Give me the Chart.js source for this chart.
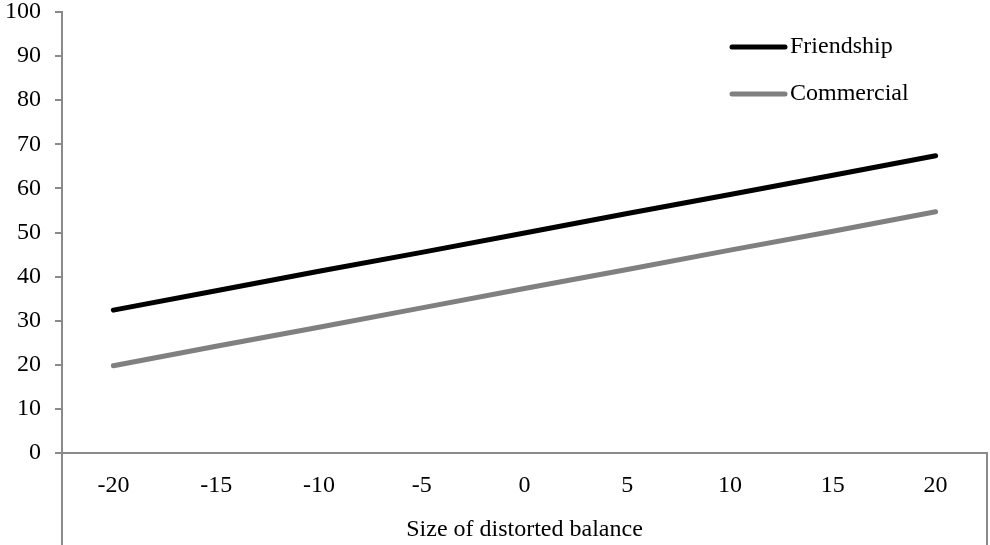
<!DOCTYPE html>
<html>
<head>
<meta charset="utf-8">
<script src="https://cdn.jsdelivr.net/npm/chart.js@4/dist/chart.umd.min.js"></script>
<style>
html,body{margin:0;padding:0;background:#fff;}
#wrap{width:990px;height:545px;position:relative;}
</style>
</head>
<body>
<div id="wrap"><canvas id="c"></canvas></div>
<script>
const categories = ['-20','-15','-10','-5','0','5','10','15','20'];
const friendship = [32.4, 36.8, 41.2, 45.5, 49.9, 54.3, 58.6, 63.0, 67.4];
const commercial = [19.8, 24.2, 28.5, 32.9, 37.3, 41.6, 46.0, 50.3, 54.7];
const yTicks = [0,10,20,30,40,50,60,70,80,90,100];
const xTitle = 'Size of distorted balance';

const FONT = '"Liberation Serif", "Times New Roman", serif';
const AXIS = '#8a8a8a';

const boxLines = {
  id: 'boxLines',
  afterDraw(chart) {
    const {ctx, chartArea} = chart;
    ctx.save();
    ctx.strokeStyle = AXIS;
    ctx.lineWidth = 2;
    ctx.beginPath();
    ctx.moveTo(chartArea.left, chartArea.bottom);
    ctx.lineTo(chartArea.left, chart.height);
    ctx.moveTo(chartArea.right, chartArea.bottom);
    ctx.lineTo(chartArea.right, chart.height);
    ctx.stroke();
    ctx.restore();
  }
};

const customLegend = {
  id: 'customLegend',
  afterDraw(chart) {
    const {ctx, chartArea} = chart;
    ctx.save();
    const x0 = chartArea.right - 255;
    const ys = [chartArea.top + 35, chartArea.top + 82];
    chart.data.datasets.forEach((ds, i) => {
      const y = ys[i];
      ctx.strokeStyle = ds.borderColor;
      ctx.lineWidth = 5;
      ctx.lineCap = 'round';
      ctx.beginPath();
      ctx.moveTo(x0, y);
      ctx.lineTo(x0 + 53, y);
      ctx.stroke();
      ctx.fillStyle = '#000';
      ctx.font = '24px ' + FONT;
      ctx.textBaseline = 'middle';
      ctx.textAlign = 'left';
      ctx.fillText(ds.label, x0 + 58, y);
    });
    ctx.restore();
  }
};

new Chart(document.getElementById('c'), {
  type: 'line',
  data: {
    labels: categories,
    datasets: [
      {label: 'Friendship', data: friendship, borderColor: '#000000', borderWidth: 5,
       pointRadius: 0, tension: 0, borderCapStyle: 'round', fill: false},
      {label: 'Commercial', data: commercial, borderColor: '#808080', borderWidth: 5,
       pointRadius: 0, tension: 0, borderCapStyle: 'round', fill: false}
    ]
  },
  options: {
    responsive: true,
    maintainAspectRatio: false,
    animation: false,
    layout: {padding: {top: 12, right: 3, left: 0, bottom: 0}},
    plugins: {legend: {display: false}, tooltip: {enabled: false}},
    scales: {
      x: {
        type: 'category',
        offset: true,
        grid: {display: false, drawTicks: false},
        border: {display: true, color: AXIS, width: 2},
        ticks: {color: '#000', font: {family: FONT, size: 24}, padding: 18, maxRotation: 0},
        title: {display: true, text: xTitle, color: '#000', font: {family: FONT, size: 24}, padding: {top: 0, bottom: 1}},
        afterFit(scale) { scale.height = 92; scale.paddingLeft = 0; scale.paddingRight = 0; }
      },
      y: {
        min: 0, max: 100,
        afterBuildTicks(scale) { scale.ticks = yTicks.map(v => ({value: v})); },
        grid: {drawOnChartArea: false, drawTicks: true, tickLength: 7, color: AXIS, lineWidth: 2},
        border: {display: true, color: AXIS, width: 2},
        ticks: {color: '#000', font: {family: FONT, size: 24}, padding: 14},
        afterFit(scale) { scale.width = 62; scale.paddingTop = 0; scale.paddingBottom = 0; }
      }
    }
  },
  plugins: [boxLines, customLegend]
});
</script>
</body>
</html>
